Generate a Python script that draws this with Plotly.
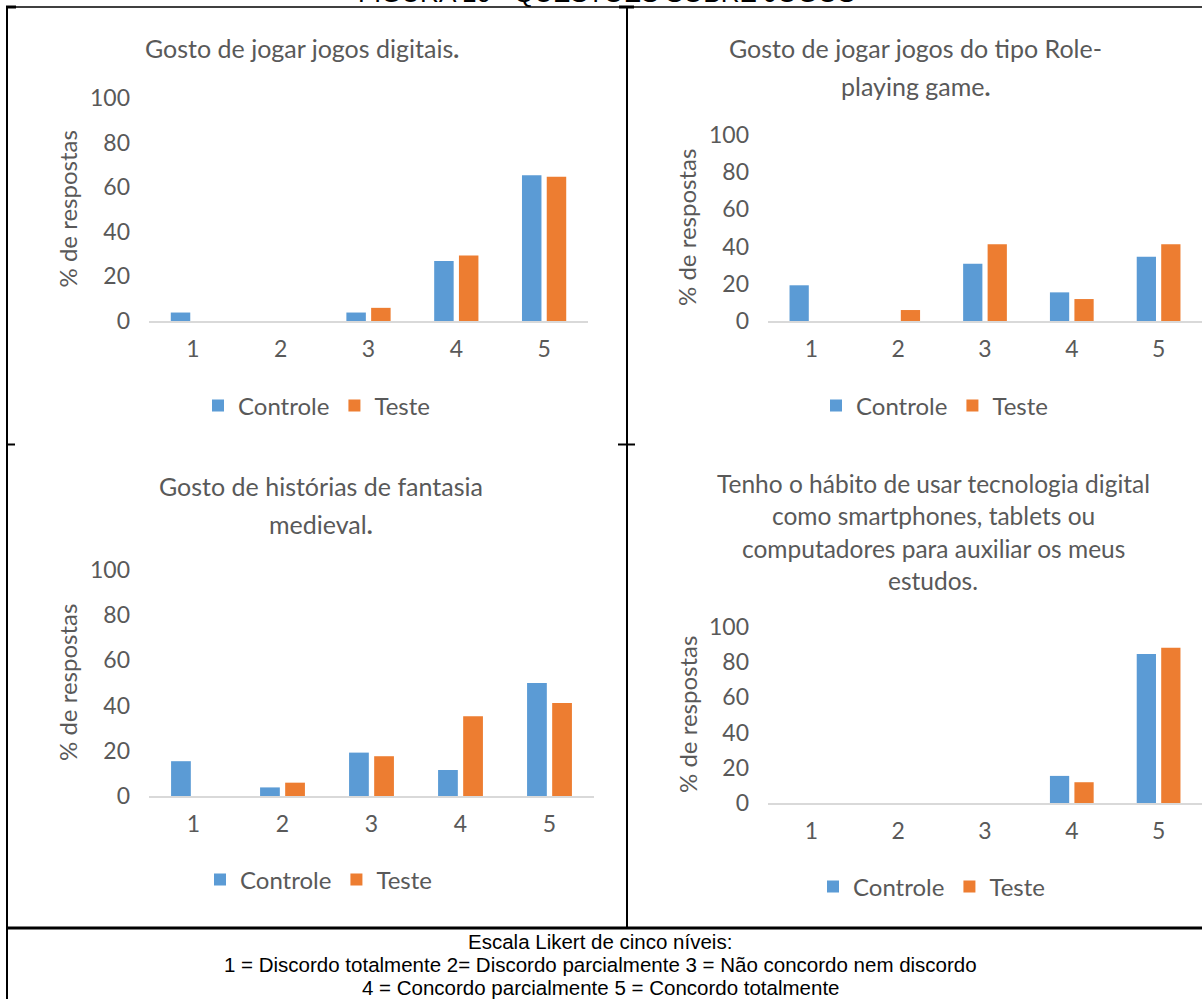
import plotly.graph_objects as go

W, H = 1202, 999

categorias = ["1", "2", "3", "4", "5"]
y_ticks = [0, 20, 40, 60, 80, 100]
series_nomes = ["Controle", "Teste"]

# Percentual de respostas em cada nível da escala Likert
jogos_digitais_controle = [3.8, 0, 3.8, 26.9, 65.4]
jogos_digitais_teste = [0, 0, 5.9, 29.4, 64.7]
rpg_controle = [19.2, 0, 30.8, 15.4, 34.6]
rpg_teste = [0, 5.9, 41.2, 11.8, 41.2]
fantasia_controle = [15.4, 3.8, 19.2, 11.5, 50.0]
fantasia_teste = [0, 5.9, 17.6, 35.3, 41.2]
tecnologia_controle = [0, 0, 0, 15.4, 84.6]
tecnologia_teste = [0, 0, 0, 11.8, 88.2]

titulo_figura = "FIGURA 10 - QUESTÕES SOBRE JOGOS"
titulo_jogos = ["Gosto de jogar jogos digitais<b>.</b>"]
titulo_rpg = ["Gosto de jogar jogos do tipo Role-", "playing game<b>.</b>"]
titulo_fantasia = ["Gosto de histórias de fantasia", "medieval<b>.</b>"]
titulo_tecnologia = [
    "Tenho o hábito de usar tecnologia digital",
    "como smartphones, tablets ou",
    "computadores para auxiliar os meus",
    "estudos.",
]
rotulo_eixo_y = "% de respostas"
legenda_escala = [
    "Escala Likert de cinco níveis:",
    "1 = Discordo totalmente 2= Discordo parcialmente 3 = Não concordo nem discordo",
    "4 = Concordo parcialmente 5 = Concordo totalmente",
]

AZUL = "#5B9BD5"
LARANJA = "#ED7D31"
CINZA_TEXTO = "#595959"
CINZA_EIXO = "#D9D9D9"
FONTE = "Lato"


def px_x(x):
    return min(max(x / W, 0), 1)


def px_y(y):
    return min(max(1 - y / H, 0), 1)


# Layout of each panel in page pixels
paineis = [
    dict(dados=(jogos_digitais_controle, jogos_digitais_teste), titulo=titulo_jogos,
         x0=149, x1=588, ytop=98, ybot=321, tx=302, ty0=48, tdy=38, tsize=25,
         ax=67, leg_x=198, leg_y=406),
    dict(dados=(rpg_controle, rpg_teste), titulo=titulo_rpg,
         x0=768, x1=1202, ytop=135, ybot=321, tx=915, ty0=48, tdy=38, tsize=25,
         ax=687, leg_x=816, leg_y=406),
    dict(dados=(fantasia_controle, fantasia_teste), titulo=titulo_fantasia,
         x0=149, x1=594, ytop=570, ybot=796, tx=321, ty0=486, tdy=38, tsize=25,
         ax=67, leg_x=200, leg_y=880),
    dict(dados=(tecnologia_controle, tecnologia_teste), titulo=titulo_tecnologia,
         x0=768, x1=1202, ytop=627, ybot=803, tx=933, ty0=483, tdy=32.5, tsize=24.5,
         ax=687, leg_x=813, leg_y=887),
]

fig = go.Figure()
annotations = []
layout_axes = {}

for i, p in enumerate(paineis, start=1):
    sfx = "" if i == 1 else str(i)
    leg = "legend" if i == 1 else f"legend{i}"
    for nome, valores, cor in zip(series_nomes, p["dados"], (AZUL, LARANJA)):
        fig.add_trace(go.Bar(
            x=categorias, y=valores, name=nome,
            marker=dict(color=cor, line=dict(width=0)),
            xaxis=f"x{sfx}", yaxis=f"y{sfx}", legend=leg,
            hoverinfo="x+y+name",
        ))
    layout_axes[f"xaxis{sfx}"] = dict(
        domain=[px_x(p["x0"]), px_x(p["x1"])], anchor=f"y{sfx}",
        type="category", showgrid=False, zeroline=False, automargin=False,
        showline=True, linecolor=CINZA_EIXO, linewidth=2,
        ticks="", ticklabelstandoff=6,
        tickfont=dict(family=FONTE, size=23, color=CINZA_TEXTO),
    )
    layout_axes[f"yaxis{sfx}"] = dict(
        domain=[px_y(p["ybot"]), px_y(p["ytop"])], anchor=f"x{sfx}",
        range=[0, 100], tickvals=y_ticks, showgrid=False, zeroline=False,
        showline=False, ticks="", ticklabelstandoff=18, automargin=False,
        tickfont=dict(family=FONTE, size=23, color=CINZA_TEXTO),
    )
    layout_axes[leg] = dict(
        orientation="h", x=px_x(p["leg_x"]), xanchor="left",
        y=px_y(p["leg_y"]), yanchor="middle",
        font=dict(family=FONTE, size=24, color=CINZA_TEXTO),
        bgcolor="rgba(0,0,0,0)", itemclick=False, itemdoubleclick=False,
    )
    for k, linha in enumerate(p["titulo"]):
        annotations.append(dict(
            text=linha, x=px_x(p["tx"]), y=px_y(p["ty0"] + k * p["tdy"]),
            xref="paper", yref="paper", xanchor="center", yanchor="middle",
            showarrow=False, font=dict(family=FONTE, size=p["tsize"], color=CINZA_TEXTO),
        ))
    annotations.append(dict(
        text=rotulo_eixo_y, x=px_x(p["ax"]), y=px_y((p["ytop"] + p["ybot"]) / 2),
        xref="paper", yref="paper", xanchor="center", yanchor="middle",
        textangle=-90, showarrow=False,
        font=dict(family=FONTE, size=24, color=CINZA_TEXTO),
    ))

# Figure caption (cut by the top edge of the page) and Likert scale note
annotations.append(dict(
    text=titulo_figura, x=px_x(606), y=1 + 7 / H, xref="paper", yref="paper",
    xanchor="center", yanchor="middle", showarrow=False,
    font=dict(family="Liberation Sans", size=26, color="black"),
))
for k, linha in enumerate(legenda_escala):
    annotations.append(dict(
        text=linha, x=px_x(600), y=px_y(941.5 + k * 23), xref="paper", yref="paper",
        xanchor="center", yanchor="middle", showarrow=False,
        font=dict(family="Liberation Sans", size=20.5, color="black"),
    ))

# Table frame around the panels
shapes = []


def linha(x0, y0, x1, y1, w):
    shapes.append(dict(type="line", xref="paper", yref="paper",
                       x0=x0 / W, y0=1 - y0 / H, x1=x1 / W, y1=1 - y1 / H,
                       line=dict(color="black", width=w)))


linha(6, 7, 1202, 7, 1.5)
linha(7, 6, 7, 999, 2)
linha(627, 7, 627, 927, 2)
linha(6, 928, 1202, 928, 3)
linha(6, 7, 16, 7, 3)
linha(619, 7, 634, 7, 3)
linha(7, 444.5, 15, 444.5, 2)
linha(618, 444.5, 635, 444.5, 2)

fig.update_layout(
    width=W, height=H, margin=dict(l=0, r=0, t=0, b=0, autoexpand=False),
    paper_bgcolor="white", plot_bgcolor="white",
    barmode="group", bargap=0.436, bargroupgap=0.213,
    showlegend=True, annotations=annotations, shapes=shapes,
    **layout_axes,
)

fig.write_html("out.html")
